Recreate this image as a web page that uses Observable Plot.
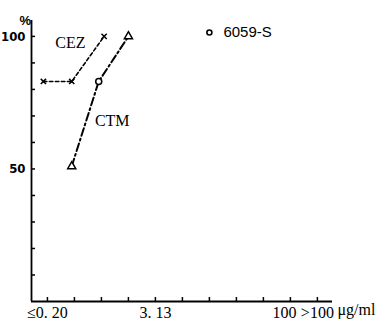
<!DOCTYPE html>
<html><head><meta charset="utf-8">
<script src="https://cdn.jsdelivr.net/npm/d3@7"></script>
<script src="https://cdn.jsdelivr.net/npm/@observablehq/plot@0.6"></script>
<style>body{margin:0;background:#fff}</style>
</head><body><div id="chart"></div>
<script>
// dilution steps (index positions on x)
const doseLabels = ["≤0. 20","0. 39","0. 78","1. 56","3. 13","6. 25","12. 5","25","50","100",">100"];
const shownDoses = ["≤0. 20","3. 13",">100"];
const shiftedDoses = ["100"];
const unitLabel = "μg/ml";
const yTicks = [10,20,30,40,50,60,70,80,90,100];
const yLabeled = [50,100];
// CEZ series
const cezX = [-0.15, 0.9, 2.1];
const cezY = [83, 83, 100];
// CTM series
const ctmX = [0.9, 1.9, 3.0];
const ctmY = [51, 83, 100];
const ctmSymbols = ["triangle","circle","triangle"];
// series labels (data coords)
const seriesNames = ["CEZ","CTM"];
const seriesLabelX = [0.85, 2.4];
const seriesLabelY = [97.7, 68.3];
// legend
const legendName = "6059-S";
const legendX = [6];
const legendY = [101.5];

const cez = cezX.map((x,i)=>({x, y:cezY[i]}));
const ctm = ctmX.map((x,i)=>({x, y:ctmY[i], s:ctmSymbols[i]}));
const labels = seriesNames.map((n,i)=>({n, x:seriesLabelX[i], y:seriesLabelY[i]}));
const legend = legendX.map((x,i)=>({x, y:legendY[i]}));
const tickIdx = doseLabels.map((d,i)=>i);
const shownIdx = shownDoses.map(d=>doseLabels.indexOf(d));
const shiftedIdx = shiftedDoses.map(d=>doseLabels.indexOf(d));
const serif = "Liberation Serif, Times New Roman, serif";

const chart = Plot.plot({
  width: 386, height: 321,
  marginLeft: 31, marginRight: 54, marginTop: 20, marginBottom: 20,
  x: {domain: [-0.59, 10.56]},
  y: {domain: [0, 106]},
  style: {background: "#fff", color: "#000"},
  marks: [
    Plot.axisX({ticks: tickIdx, tickSize: -4, tickFormat: () => "", strokeWidth: 1.5, label: null}),
    Plot.axisX({ticks: shownIdx, tickSize: 0, tickPadding: 5, tickFormat: i => doseLabels[i],
      fontSize: 16, fontFamily: serif, label: null}),
    Plot.axisX({ticks: shiftedIdx, tickSize: 0, tickPadding: 5, dx: -6, tickFormat: i => doseLabels[i],
      fontSize: 16, fontFamily: serif, label: null}),
    Plot.axisY({ticks: yTicks, tickSize: -4, tickPadding: 10,
      tickFormat: v => yLabeled.includes(v) ? String(v) : "",
      fontSize: 13, fontWeight: "bold", fontFamily: "DejaVu Sans Condensed, sans-serif",
      strokeWidth: 1.5, label: null}),
    Plot.ruleY([0], {strokeWidth: 1.8}),
    Plot.ruleX([-0.59], {strokeWidth: 1.8}),
    Plot.text(["%"], {frameAnchor: "top-left", dx: -12, dy: -5, fontSize: 13, fontWeight: "bold",
      fontFamily: "Liberation Sans, sans-serif"}),
    Plot.text([unitLabel], {frameAnchor: "bottom-right", textAnchor: "start", dx: 5, dy: 13,
      fontSize: 16, fontFamily: serif}),
    Plot.line(cez, {x: "x", y: "y", strokeWidth: 1.6, strokeDasharray: "3.5,2.5"}),
    Plot.dot(cez, {x: "x", y: "y", symbol: "times", r: 2.5, stroke: "#000", strokeWidth: 1.5}),
    Plot.line(ctm, {x: "x", y: "y", strokeWidth: 2, strokeDasharray: "8,3,2,3"}),
    Plot.dot(ctm, {x: "x", y: "y", symbol: "s", r: 3, stroke: "#000", fill: "#fff", strokeWidth: 1.5}),
    Plot.text(labels, {x: "x", y: "y", text: "n", fontSize: 16, fontFamily: serif}),
    Plot.dot(legend, {x: "x", y: "y", r: 2.5, stroke: "#000", fill: "#fff", strokeWidth: 1.6}),
    Plot.text(legend, {x: "x", y: "y", text: () => legendName, dx: 14,
      textAnchor: "start", fontSize: 15, fontFamily: "Liberation Sans, sans-serif"})
  ]
});
document.getElementById("chart").appendChild(chart);
</script>
</body></html>
